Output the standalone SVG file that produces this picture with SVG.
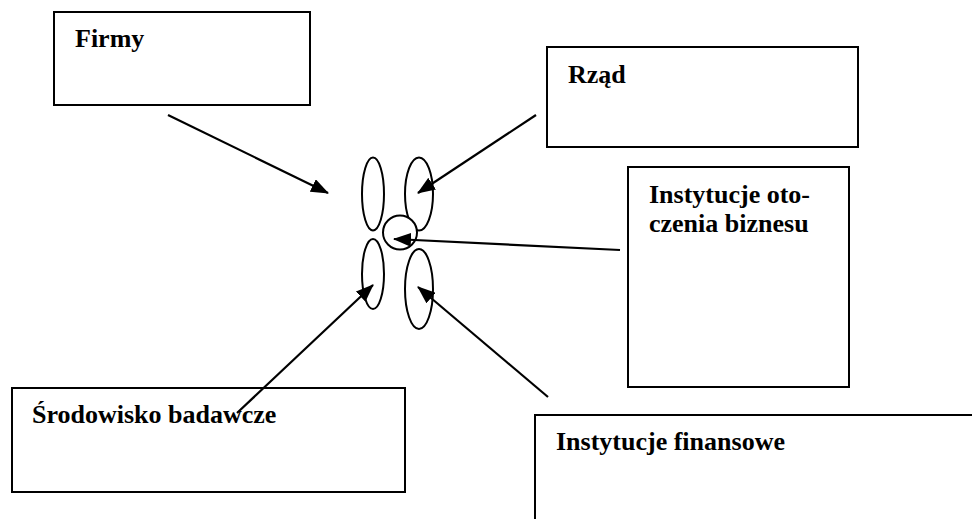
<svg xmlns="http://www.w3.org/2000/svg" width="972" height="519" viewBox="0 0 972 519">
<style>
.box{fill:#fff;stroke:#000;stroke-width:2}
.lbl{font-family:"Liberation Serif","Times New Roman",serif;font-weight:bold;font-size:26px;fill:#000}
.ell{fill:none;stroke:#000;stroke-width:2}
.con{stroke:#000;stroke-width:2.2;fill:none;marker-end:url(#ah)}
</style>
<defs>
<marker id="ah" markerUnits="userSpaceOnUse" markerWidth="18" markerHeight="14" viewBox="0 0 18 14" refX="17" refY="7" orient="auto">
<path d="M0,0 L18,7 L0,14 z" fill="#000"/>
</marker>
</defs>
<rect width="972" height="519" fill="#fff"/>
<g id="firmy"><rect class="box" x="54" y="12" width="256" height="93"/><text class="lbl" x="75" y="47">Firmy</text></g>
<g id="rzad"><rect class="box" x="547" y="47" width="311" height="100"/><text class="lbl" x="568" y="83">Rząd</text></g>
<g id="otoczenie"><rect class="box" x="628" y="167" width="221" height="220"/><text class="lbl" x="649" y="203">Instytucje oto-</text><text class="lbl" x="649" y="232">czenia biznesu</text></g>
<g id="srodowisko"><rect class="box" x="12" y="388" width="393" height="104"/><text class="lbl" x="32" y="423">Środowisko badawcze</text></g>
<g id="finanse"><rect class="box" x="535" y="415" width="450" height="120"/><text class="lbl" x="556" y="450">Instytucje finansowe</text></g>
<g id="center">
<ellipse class="ell" cx="373" cy="194" rx="11" ry="36.5"/>
<ellipse class="ell" cx="419" cy="194" rx="14" ry="36.5"/>
<ellipse class="ell" cx="373" cy="274" rx="11" ry="35"/>
<ellipse class="ell" cx="419" cy="289" rx="14" ry="40"/>
<circle class="ell" cx="400" cy="232.5" r="17" fill="#fff" style="fill:#fff"/>
</g>
<g id="connectors">
<line class="con" x1="168" y1="115" x2="328" y2="193"/>
<line class="con" x1="536" y1="115" x2="418" y2="193"/>
<line class="con" x1="620" y1="250" x2="394" y2="239"/>
<line class="con" x1="237" y1="413" x2="373" y2="285"/>
<line class="con" x1="548" y1="397" x2="418" y2="287"/>
</g>
</svg>
